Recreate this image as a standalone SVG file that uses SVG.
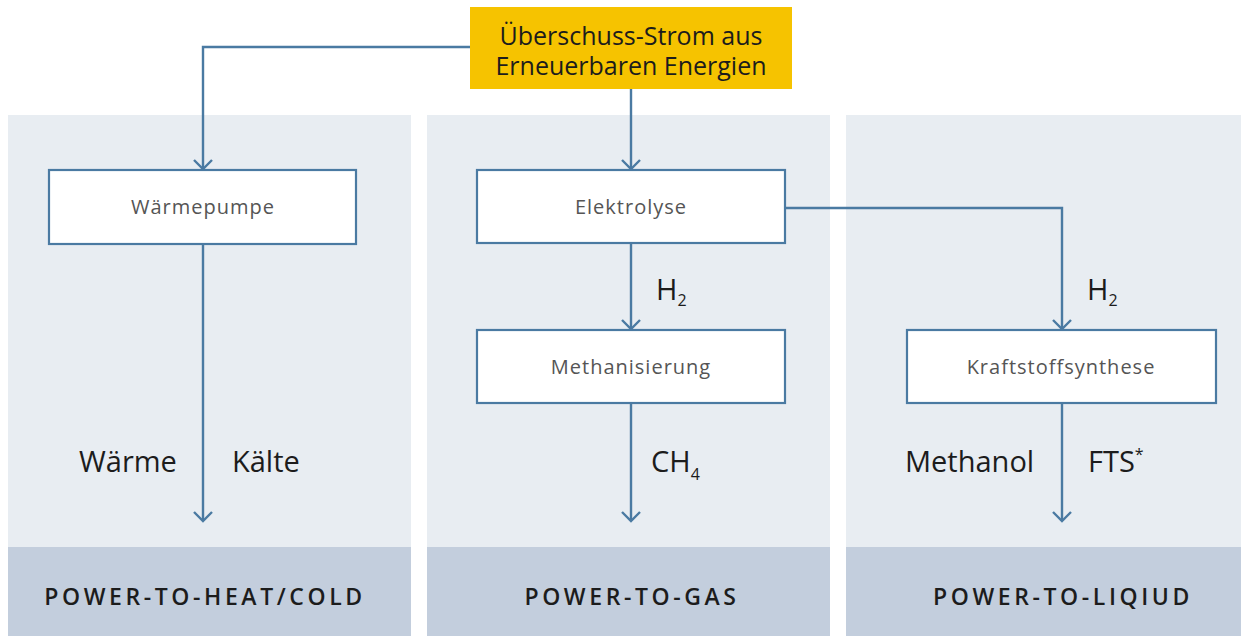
<svg xmlns="http://www.w3.org/2000/svg" width="1241" height="636" viewBox="0 0 1241 636">
<defs>
<marker id="arr" viewBox="0 0 20 20" refX="17" refY="10" markerWidth="20" markerHeight="20" markerUnits="userSpaceOnUse" orient="auto">
<path d="M8,1 L17,10 L8,19" fill="none" stroke="#4a7aa2" stroke-width="2.4"/>
</marker>
<style>
.panel{fill:#e8edf2}
.band{fill:#c3cedd}
.box{fill:#fff;stroke:#4a7aa2;stroke-width:2.2}
.conn{fill:none;stroke:#4a7aa2;stroke-width:2.4}
.nt{font-family:"Open Sans",sans-serif;font-size:20px;fill:#555;text-anchor:middle;letter-spacing:1px}
.lab{font-family:"Open Sans",sans-serif;font-size:29px;fill:#1c1c1c}
.sub{font-size:16px}
.band-t{font-family:"Open Sans",sans-serif;font-size:23px;font-weight:600;fill:#1c1c1c;text-anchor:middle;letter-spacing:3.6px}
.top-t{font-family:"Open Sans",sans-serif;font-size:25px;fill:#1c1c1c;text-anchor:middle}
</style>
</defs>
<rect width="1241" height="636" fill="#fff"/>
<g id="panel-heat">
<rect class="panel" x="8" y="115" width="403" height="521"/>
<rect class="band" x="8" y="547" width="403" height="89"/>
<text class="band-t" x="205" y="605">POWER-TO-HEAT/COLD</text>
</g>
<g id="panel-gas">
<rect class="panel" x="427" y="115" width="403" height="521"/>
<rect class="band" x="427" y="547" width="403" height="89"/>
<text class="band-t" x="632" y="605">POWER-TO-GAS</text>
</g>
<g id="panel-liquid">
<rect class="panel" x="846" y="115" width="395" height="521"/>
<rect class="band" x="846" y="547" width="395" height="89"/>
<text class="band-t" x="1063" y="605">POWER-TO-LIQIUD</text>
</g>
<g id="connectors">
<path class="conn" d="M470,47 H203 V169" marker-end="url(#arr)"/>
<path class="conn" d="M631,89 V169" marker-end="url(#arr)"/>
<path class="conn" d="M203,244 V521" marker-end="url(#arr)"/>
<path class="conn" d="M631,243 V329" marker-end="url(#arr)"/>
<path class="conn" d="M785,208 H1062 V329" marker-end="url(#arr)"/>
<path class="conn" d="M631,403 V521" marker-end="url(#arr)"/>
<path class="conn" d="M1062,403 V521" marker-end="url(#arr)"/>
</g>
<g id="source">
<rect x="470" y="7" width="322" height="82" fill="#f6c300"/>
<text class="top-t" x="631" y="45">Überschuss-Strom aus</text>
<text class="top-t" x="631" y="75">Erneuerbaren Energien</text>
</g>
<g id="waermepumpe">
<rect class="box" x="49" y="170" width="307" height="74"/>
<text class="nt" x="203" y="214">Wärmepumpe</text>
</g>
<g id="elektrolyse">
<rect class="box" x="477" y="170" width="308" height="73"/>
<text class="nt" x="631" y="214">Elektrolyse</text>
</g>
<g id="methanisierung">
<rect class="box" x="477" y="330" width="308" height="73"/>
<text class="nt" x="631" y="374">Methanisierung</text>
</g>
<g id="kraftstoffsynthese">
<rect class="box" x="907" y="330" width="309" height="73"/>
<text class="nt" x="1061" y="374">Kraftstoffsynthese</text>
</g>
<g id="labels">
<text class="lab" x="656" y="300">H<tspan class="sub" dy="6">2</tspan></text>
<text class="lab" x="1087" y="300">H<tspan class="sub" dy="6">2</tspan></text>
<text class="lab" x="79" y="472">Wärme</text>
<text class="lab" x="232" y="472">Kälte</text>
<text class="lab" x="651" y="472">CH<tspan class="sub" dy="8">4</tspan></text>
<text class="lab" x="905" y="472">Methanol</text>
<text class="lab" x="1088" y="472">FTS<tspan class="sub" dy="-12">*</tspan></text>
</g>
</svg>
